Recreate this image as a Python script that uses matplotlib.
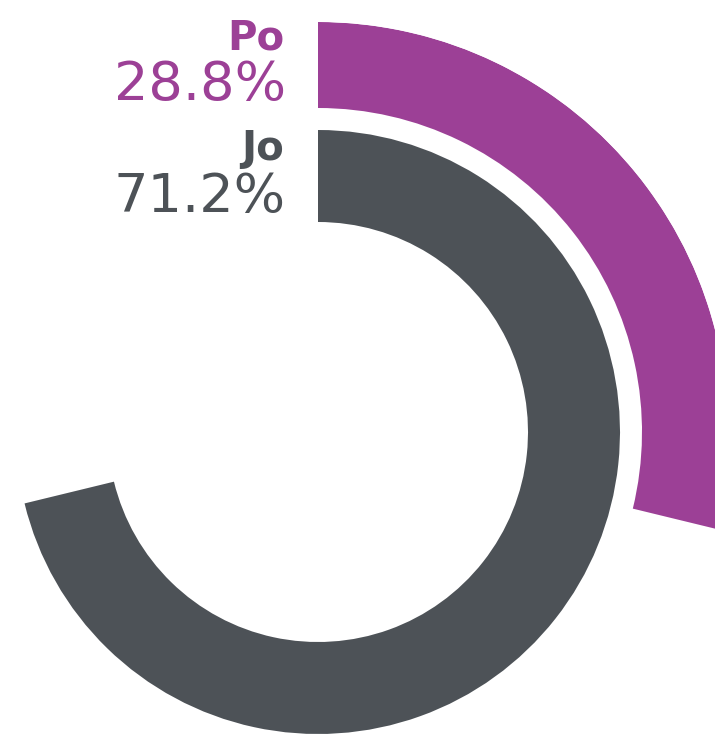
import matplotlib
matplotlib.use('Agg')
import matplotlib.pyplot as plt
import numpy as np

labels = ['Po', 'Jo']
shares = [28.8, 71.2]
colors = ['#9c4096', '#4d5257']
inner_r = [324, 210]
outer_r = [410, 302]

W, H = 715, 736
fig = plt.figure(figsize=(W / 100, H / 100), dpi=100)

# polar axes centred on the rings, allowed to run past the figure edge
cx, cy, R = 318, 432, 410
ax = fig.add_axes([(cx - R) / W, (H - cy - R) / H, 2 * R / W, 2 * R / H],
                  projection='polar')
ax.set_theta_zero_location('N')
ax.set_theta_direction(-1)
ax.set_ylim(0, R)
ax.axis('off')

for share, c, r0, r1 in zip(shares, colors, inner_r, outer_r):
    span = share / 100 * 2 * np.pi
    ax.bar(span / 2, r1 - r0, width=span, bottom=r0, color=c,
           edgecolor='none', align='center')

# labels, right aligned at the left of the ring start
name_y = [50, 160]
pct_y = [100, 212]
for lab, share, c, ny, py in zip(labels, shares, colors, name_y, pct_y):
    fig.text(284 / W, 1 - ny / H, lab, color=c, ha='right', va='baseline',
             fontsize=29, fontfamily='DejaVu Sans', fontweight='heavy')
    fig.text(286 / W, 1 - py / H, f'{share}%', color=c, ha='right',
             va='baseline', fontsize=39, fontfamily='DejaVu Sans')

fig.savefig('out.png', dpi=100)
